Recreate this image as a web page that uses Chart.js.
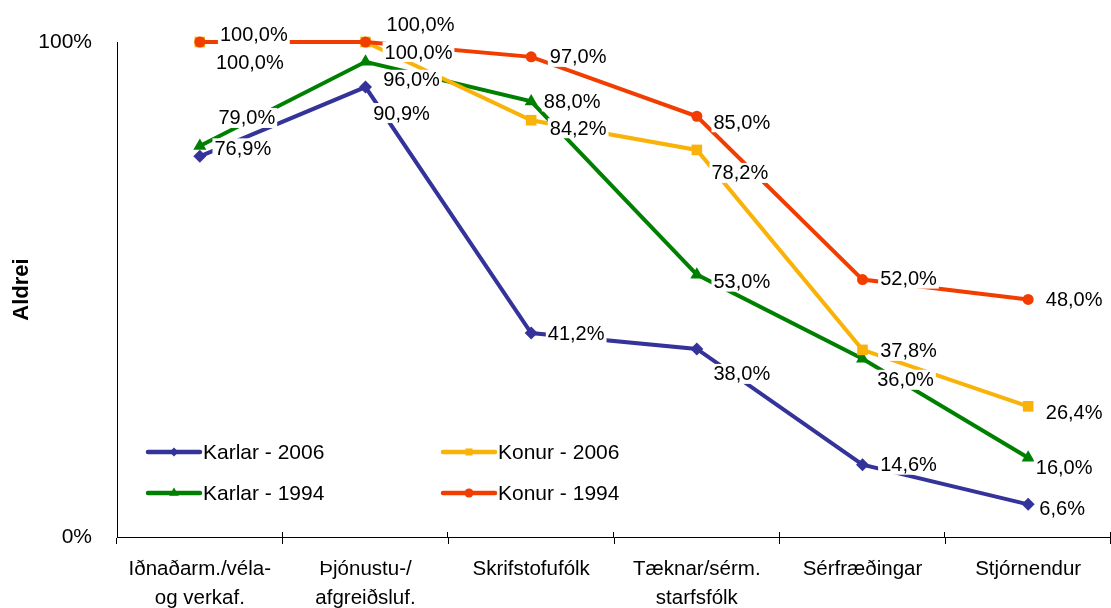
<!DOCTYPE html>
<html>
<head>
<meta charset="utf-8">
<script src="https://cdn.jsdelivr.net/npm/chart.js@4/dist/chart.umd.min.js"></script>
<style>
  html, body { margin: 0; padding: 0; background: #fff; }
  #wrap { width: 1111px; height: 608px; }
</style>
</head>
<body>
<div id="wrap"><canvas id="chart" width="1111" height="608"></canvas></div>
<script>
// Categories and values (percent)
const categories = [
    ["Iðnaðarm./véla-", "og verkaf."],
    ["Þjónustu-/", "afgreiðsluf."],
    "Skrifstofufólk",
    ["Tæknar/sérm.", "starfsfólk"],
    "Sérfræðingar",
    "Stjórnendur"
];
const karlar2006 = [76.9, 90.9, 41.2, 38.0, 14.6, 6.6];
const konur2006 = [100.0, 100.0, 84.2, 78.2, 37.8, 26.4];
const karlar1994 = [79.0, 96.0, 88.0, 53.0, 36.0, 16.0];
const konur1994 = [100.0, 100.0, 97.0, 85.0, 52.0, 48.0];
const yTicks = [0, 100];

// where each value label sits relative to its point (px)
const labelOffsets = [
    [[43, -8], [36, 26], [45, 0], [45, 25], [46, 0], [34, 4]],
    [[50, 20], [53, 10], [47, 8], [43, 23], [46, 1], [46, 6]],
    [[47, -28], [46, 18], [41, 0], [45, 7], [43, 21], [36, 10]],
    [[54, -8], [55, -18], [47, 0], [45, 6], [46, -1], [46, 0]]
];

const FONT = "'Liberation Sans', Arial, sans-serif";

const valueLabels = {
    id: "valueLabels",
    afterDatasetsDraw(chart) {
        const ctx = chart.ctx;
        ctx.save();
        ctx.font = "20px " + FONT;
        ctx.textAlign = "center";
        ctx.textBaseline = "middle";
        chart.data.datasets.forEach((ds, di) => {
            const meta = chart.getDatasetMeta(di);
            meta.data.forEach((pt, i) => {
                const txt = ds.data[i].toFixed(1).replace(".", ",") + "%";
                const x = pt.x + labelOffsets[di][i][0];
                const y = pt.y + labelOffsets[di][i][1];
                const w = ctx.measureText(txt).width + 4;
                ctx.fillStyle = "#fff";
                ctx.fillRect(x - w / 2, y - 10, w, 20);
                ctx.fillStyle = "#000";
                ctx.fillText(txt, x, y + 1);
            });
        });
        ctx.restore();
    }
};

// legend drawn inside the plot, two columns; also the small tick stubs above the x axis
const insideLegend = {
    id: "insideLegend",
    afterDraw(chart) {
        const ctx = chart.ctx;
        const area = chart.chartArea;
        const n = chart.data.labels.length;
        ctx.save();
        ctx.strokeStyle = "#000";
        ctx.lineWidth = 1;
        for (let i = 1; i <= n; i++) {
            const x = Math.round(area.left + (area.right - area.left) * i / n) - 0.5;
            ctx.beginPath();
            ctx.moveTo(x, area.bottom - 5);
            ctx.lineTo(x, area.bottom);
            ctx.stroke();
        }

        const slots = [[148, 452], [443, 452], [148, 493], [443, 493]];
        const sizes = [4.5, 5, 5.5, 4.5];
        ctx.font = "21px " + FONT;
        ctx.textBaseline = "middle";
        chart.data.datasets.forEach((ds, di) => {
            const [x, y] = slots[di];
            ctx.strokeStyle = ds.borderColor;
            ctx.lineWidth = 4.5;
            ctx.lineCap = "round";
            ctx.beginPath();
            ctx.moveTo(x, y);
            ctx.lineTo(x + 52, y);
            ctx.stroke();
            ctx.fillStyle = ds.borderColor;
            Chart.helpers.drawPoint(ctx, {
                pointStyle: ds.pointStyle,
                radius: sizes[di],
                borderWidth: 0
            }, x + 26, y);
            ctx.fillStyle = "#000";
            ctx.fillText(ds.label, x + 55, y + 1);
        });
        ctx.restore();
    }
};

function series(label, data, color, style, radius, order) {
    return {
        label: label,
        data: data,
        borderColor: color,
        backgroundColor: color,
        pointBackgroundColor: color,
        pointBorderColor: color,
        pointBorderWidth: 0,
        pointStyle: style,
        pointRadius: radius,
        pointHoverRadius: radius,
        borderWidth: 4,
        tension: 0,
        clip: false,
        order: order
    };
}

new Chart(document.getElementById("chart"), {
    type: "line",
    data: {
        labels: categories,
        datasets: [
            series("Karlar - 2006", karlar2006, "#333399", "rectRot", 6.5, 3),
            series("Konur - 2006", konur2006, "#F9B208", "rect", 7.5, 1),
            series("Karlar - 1994", karlar1994, "#008000", "triangle", 7.5, 2),
            series("Konur - 1994", konur1994, "#F23D00", "circle", 5.5, 0)
        ]
    },
    options: {
        responsive: false,
        animation: false,
        events: [],
        layout: { autoPadding: false, padding: { top: 42, right: 0, bottom: 0, left: 0 } },
        plugins: {
            legend: { display: false },
            tooltip: { enabled: false }
        },
        scales: {
            x: {
                offset: true,
                afterFit(scale) {
                    scale.height = 71;
                    scale.paddingLeft = 0;
                    scale.paddingRight = 0;
                },
                grid: {
                    display: true,
                    drawOnChartArea: false,
                    offset: true,
                    tickLength: 7,
                    color: "#000"
                },
                border: { color: "#000", width: 1 },
                ticks: {
                    color: "#000",
                    padding: 11,
                    maxRotation: 0,
                    autoSkip: false,
                    font: { family: FONT, size: 20.5, lineHeight: 1.42 }
                }
            },
            y: {
                min: 0,
                max: 100,
                afterFit(scale) {
                    scale.width = 117;
                    scale.paddingTop = 0;
                    scale.paddingBottom = 0;
                },
                afterBuildTicks(scale) {
                    scale.ticks = yTicks.map(v => ({ value: v }));
                },
                grid: { display: false },
                border: { color: "#000", width: 1 },
                ticks: {
                    color: "#000",
                    padding: 17,
                    font: { family: FONT, size: 21 },
                    callback: v => v + "%"
                },
                title: {
                    display: true,
                    text: "Aldrei",
                    color: "#000",
                    padding: { top: 9, bottom: 0 },
                    font: { family: FONT, size: 22, weight: "bold" }
                }
            }
        }
    },
    plugins: [valueLabels, insideLegend]
});
</script>
</body>
</html>
